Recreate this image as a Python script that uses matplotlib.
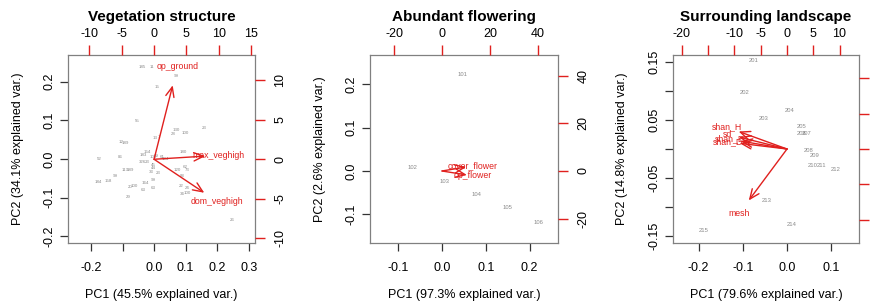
import matplotlib
matplotlib.use("Agg")
import matplotlib.pyplot as plt

plt.rcParams['font.family'] = ['Liberation Sans', 'DejaVu Sans']

# ---- Vegetation structure: sample scores (PC1, PC2) and labels
veg_lab = ["185", "11", "99", "15", "55", "130", "28", "100", "23", "13", "7", "12", "189",
           "52", "86", "183", "154", "100", "69", "61", "104", "180", "326", "23", "45", "44",
           "113", "189", "33", "23", "99", "158", "184", "120", "62", "73", "88", "99", "164",
           "20", "100", "63", "63", "22", "24", "34", "100", "29", "26"]
veg_pc1 = [-0.038, -0.006, 0.070, 0.010, -0.054, 0.070, 0.060, 0.098, 0.159, 0.003, 0.016, -0.104, -0.092,
           -0.175, -0.108, -0.035, -0.022, -0.004, 0.006, 0.025, 0.035, 0.092, -0.038, -0.022, -0.002, -0.002,
           -0.092, -0.074, -0.008, 0.012, -0.124, -0.146, -0.178, 0.073, 0.098, 0.105, 0.090, -0.002, -0.028,
           -0.077, -0.063, -0.033, -0.002, 0.085, 0.105, 0.090, 0.105, -0.083, 0.248]
veg_pc2 = [0.238, 0.238, 0.215, 0.186, 0.098, 0.075, 0.064, 0.067, 0.080, 0.054, 0.057, 0.044, 0.041,
           0.000, 0.005, 0.010, 0.018, 0.005, 0.008, 0.005, 0.000, 0.018, -0.008, -0.008, -0.016, -0.024,
           -0.028, -0.028, -0.034, -0.036, -0.044, -0.057, -0.059, -0.028, -0.021, -0.028, -0.044, -0.054, -0.062,
           -0.072, -0.070, -0.080, -0.075, -0.070, -0.075, -0.090, -0.088, -0.098, -0.158]
veg_vars = ["op_ground", "max_veghigh", "dom_veghigh"]
veg_load1 = [3.6, 9.9, 9.7]
veg_load2 = [11.7, 0.5, -5.3]

# ---- Abundant flowering
flw_lab = ["101", "102", "103", "104", "105", "106"]
flw_pc1 = [0.046, -0.069, 0.005, 0.078, 0.149, 0.220]
flw_pc2 = [0.224, 0.009, -0.023, -0.053, -0.085, -0.118]
flw_vars = ["cover_flower", "op_flower"]
flw_load1 = [12.6, 13.0]
flw_load2 = [2.1, -2.1]

# ---- Surrounding landscape
lan_lab = ["201", "202", "203", "204", "205", "206", "207", "208", "209", "210",
           "211", "212", "213", "214", "215"]
lan_pc1 = [-0.075, -0.097, -0.054, 0.005, 0.034, 0.033, 0.045, 0.050, 0.063, 0.059,
           0.079, 0.111, -0.045, 0.011, -0.188]
lan_pc2 = [0.152, 0.098, 0.053, 0.066, 0.038, 0.026, 0.026, -0.003, -0.012, -0.029,
           -0.029, -0.035, -0.088, -0.130, -0.141]
lan_vars = ["shan_H", "sd", "shan_E", "shan_D", "mesh"]
lan_load1 = [-11.5, -11.4, -11.0, -11.2, -9.1]
lan_load2 = [3.1, 2.1, 1.4, 1.0, -9.1]

panels = [
    dict(title="Vegetation structure", lab=veg_lab, x=veg_pc1, y=veg_pc2,
         vars=veg_vars, lx=veg_load1, ly=veg_load2,
         xlab="PC1 (45.5% explained var.)", ylab="PC2 (34.1% explained var.)",
         left=68, width=187, xlim=(-0.273, 0.32), ylim=(-0.217, 0.269),
         xt=[-0.2, -0.1, 0.0, 0.1, 0.2, 0.3], xtl=["-0.2", "", "0.0", "0.1", "0.2", "0.3"],
         yt=[-0.2, -0.1, 0.0, 0.1, 0.2], ytl=["-0.2", "-0.1", "0.0", "0.1", "0.2"],
         axlim=(-13.3, 15.6), aylim=(-10.6, 13.2),
         at=[-10, -5, 0, 5, 10, 15], atl=["-10", "-5", "0", "5", "10", "15"],
         ar=[-10, -5, 0, 5, 10], arl=["-10", "-5", "0", "5", "10"],
         ptsize=3.2, ylabx=18),
    dict(title="Abundant flowering", lab=flw_lab, x=flw_pc1, y=flw_pc2,
         vars=flw_vars, lx=flw_load1, ly=flw_load2,
         xlab="PC1 (97.3% explained var.)", ylab="PC2 (2.6% explained var.)",
         left=370, width=188, xlim=(-0.165, 0.265), ylim=(-0.166, 0.268),
         xt=[-0.1, 0.0, 0.1, 0.2], xtl=["-0.1", "0.0", "0.1", "0.2"],
         yt=[-0.1, 0.0, 0.1, 0.2], ytl=["-0.1", "0.0", "0.1", "0.2"],
         axlim=(-30.1, 48.5), aylim=(-30.3, 48.8),
         at=[-20, 0, 20, 40], atl=["-20", "0", "20", "40"],
         ar=[-20, 0, 20, 40], arl=["-20", "0", "20", "40"],
         ptsize=4.2, ylabx=320),
    dict(title="Surrounding landscape", lab=lan_lab, x=lan_pc1, y=lan_pc2,
         vars=lan_vars, lx=lan_load1, ly=lan_load2,
         xlab="PC1 (79.6% explained var.)", ylab="PC2 (14.8% explained var.)",
         left=673, width=186, xlim=(-0.258, 0.163), ylim=(-0.162, 0.162),
         xt=[-0.2, -0.1, 0.0, 0.1], xtl=["-0.2", "-0.1", "0.0", "0.1"],
         yt=[-0.15, -0.10, -0.05, 0.0, 0.05, 0.10, 0.15],
         ytl=["-0.15", "", "-0.05", "", "0.05", "", "0.15"],
         axlim=(-21.7, 13.7), aylim=(-13.3, 13.3),
         at=[-20, -15, -10, -5, 0, 5, 10], atl=["-20", "", "-10", "-5", "0", "5", "10"],
         ar=[-10, -5, 0, 5, 10], arl=["-10", "-5", "0", "5", "10"],
         ptsize=4.2, ylabx=622),
]

W, H = 879, 303
fig = plt.figure(figsize=(W / 100, H / 100), dpi=100)
top_px, bot_px = 55, 243
red = "#E0201E"

for p in panels:
    rect = [p["left"] / W, 1 - bot_px / H, p["width"] / W, (bot_px - top_px) / H]
    ax = fig.add_axes(rect)
    ax.set_xlim(p["xlim"])
    ax.set_ylim(p["ylim"])
    for s in ax.spines.values():
        s.set_color("#808080")
        s.set_linewidth(0.9)
    ax.set_xticks(p["xt"])
    ax.set_xticklabels(p["xtl"])
    ax.set_yticks(p["yt"])
    ax.set_yticklabels(p["ytl"], rotation=90, va="center")
    ax.tick_params(direction="out", length=6, width=0.9, color="#333333", labelsize=9)
    ax.tick_params(axis="x", pad=8)
    ax.tick_params(axis="y", pad=3)
    for lab, x, y in zip(p["lab"], p["x"], p["y"]):
        ax.text(x, y, lab, fontsize=p["ptsize"], color="#8a8a8a", ha="center", va="center")

    # loadings drawn in their own coordinate system (top/right axes)
    ax2 = fig.add_axes(rect, frameon=False)
    ax2.set_xlim(p["axlim"])
    ax2.set_ylim(p["aylim"])
    ax2.xaxis.tick_top()
    ax2.yaxis.tick_right()
    ax2.set_xticks(p["at"])
    ax2.set_xticklabels(p["atl"])
    ax2.set_yticks(p["ar"])
    ax2.set_yticklabels(p["arl"], rotation=90, va="center")
    ax2.tick_params(direction="out", length=7, width=1.0, color=red, labelsize=9)
    ax2.tick_params(axis="x", pad=4)
    ax2.tick_params(axis="y", pad=7)
    for name, lx, ly in zip(p["vars"], p["lx"], p["ly"]):
        ax2.annotate("", xy=(lx * 0.8, ly * 0.8), xytext=(0, 0),
                     arrowprops=dict(arrowstyle="->,head_length=0.7,head_width=0.3",
                                     color=red, lw=1.0, shrinkA=0, shrinkB=0))
        ax2.text(lx, ly, name, fontsize=6.3, color=red, ha="center", va="center")

    cx = (p["left"] + p["width"] / 2) / W
    fig.text(cx, 1 - 17 / H, p["title"], ha="center", va="center",
             fontsize=11, fontweight="bold")
    fig.text(cx, 1 - 295 / H, p["xlab"], ha="center", va="center", fontsize=9)
    fig.text(p["ylabx"] / W, 1 - 149 / H, p["ylab"], ha="center", va="center",
             fontsize=9, rotation=90)

fig.savefig("out.png", dpi=100)
